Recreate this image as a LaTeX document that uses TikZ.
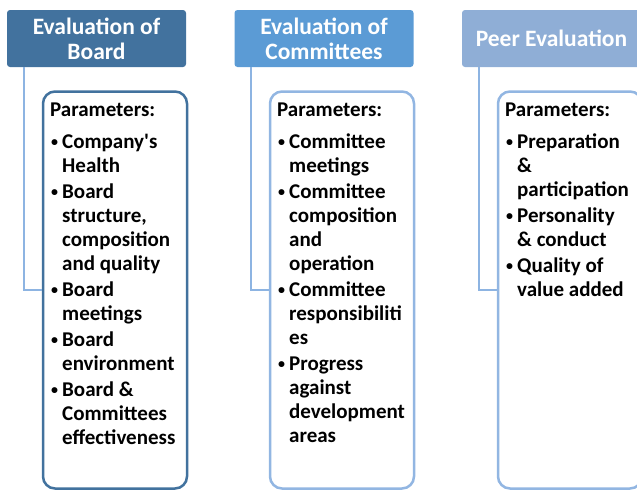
\documentclass[tikz,border=0pt]{standalone}
\usepackage{fontspec}
\setmainfont{Carlito}[Ligatures=TeXOff]
\definecolor{hdone}{RGB}{66,114,158}
\definecolor{hdtwo}{RGB}{91,155,213}
\definecolor{hdthree}{RGB}{143,174,214}
\definecolor{bdone}{RGB}{66,114,158}
\definecolor{bdlight}{RGB}{146,182,226}
\definecolor{connc}{RGB}{141,180,226}
\newcommand{\bul}[1]{\makebox[12pt][l]{\hspace*{1pt}\raisebox{1.5pt}{\fontsize{14}{14}\selectfont •}}#1}
\newcommand{\ind}[1]{\hspace*{12pt}#1}
\tikzset{
  header/.style={rectangle, rounded corners=3pt, minimum width=179pt, minimum height=57pt,
    inner sep=0pt, text=white, align=center, font=\fontsize{23.5}{25}\selectfont\bfseries},
  parambox/.style={rectangle, rounded corners=12pt, line width=2.5pt, minimum width=144pt,
    minimum height=397pt, inner sep=0pt, fill=white},
  paramtext/.style={anchor=north west, inner sep=0pt, align=left,
    font=\fontsize{21}{24}\selectfont\bfseries},
  conn/.style={draw=connc, line width=2pt}
}
\begin{document}
\begin{tikzpicture}[x=1pt,y=-1pt]
\useasboundingbox (0,0) rectangle (637,491);
\clip (0,0) rectangle (637,491);
% headers
\node[header, fill=hdone] (h1) at (96.5,38.5) {Evaluation of\\Board};
\node[header, fill=hdtwo] (h2) at (324,38.5) {Evaluation of\\Committees};
\node[header, fill=hdthree] (h3) at (551.5,38.5) {Peer Evaluation};
% boxes
\node[parambox, draw=bdone] (b1) at (115,290) {};
\node[parambox, draw=bdlight] (b2) at (342,290) {};
\node[parambox, draw=bdlight] (b3) at (570,290) {};
% connectors
\draw[conn] ([xshift=17pt]h1.south west) |- (b1.west);
\draw[conn] ([xshift=17pt]h2.south west) |- (b2.west);
\draw[conn] ([xshift=17pt]h3.south west) |- (b3.west);
% texts
\node[paramtext] (t1) at (50,102.5) {Parameters:\\[8pt]
\bul{Company's}\\ \ind{Health}\\[2pt]
\bul{Board}\\ \ind{structure,}\\ \ind{composition}\\ \ind{and quality}\\[2pt]
\bul{Board}\\ \ind{meetings}\\[2pt]
\bul{Board}\\ \ind{environment}\\[2pt]
\bul{Board \&}\\ \ind{Committees}\\ \ind{effectiveness}};
\node[paramtext] (t2) at (277,102.5) {Parameters:\\[8pt]
\bul{Committee}\\ \ind{meetings}\\[2pt]
\bul{Committee}\\ \ind{composition}\\ \ind{and}\\ \ind{operation}\\[2pt]
\bul{Committee}\\ \ind{responsibiliti}\\ \ind{es}\\[2pt]
\bul{Progress}\\ \ind{against}\\ \ind{development}\\ \ind{areas}};
\node[paramtext] (t3) at (505,102.5) {Parameters:\\[8pt]
\bul{Preparation}\\ \ind{\&}\\ \ind{participation}\\[2pt]
\bul{Personality}\\ \ind{\& conduct}\\[2pt]
\bul{Quality of}\\ \ind{value added}};
\end{tikzpicture}
\end{document}
